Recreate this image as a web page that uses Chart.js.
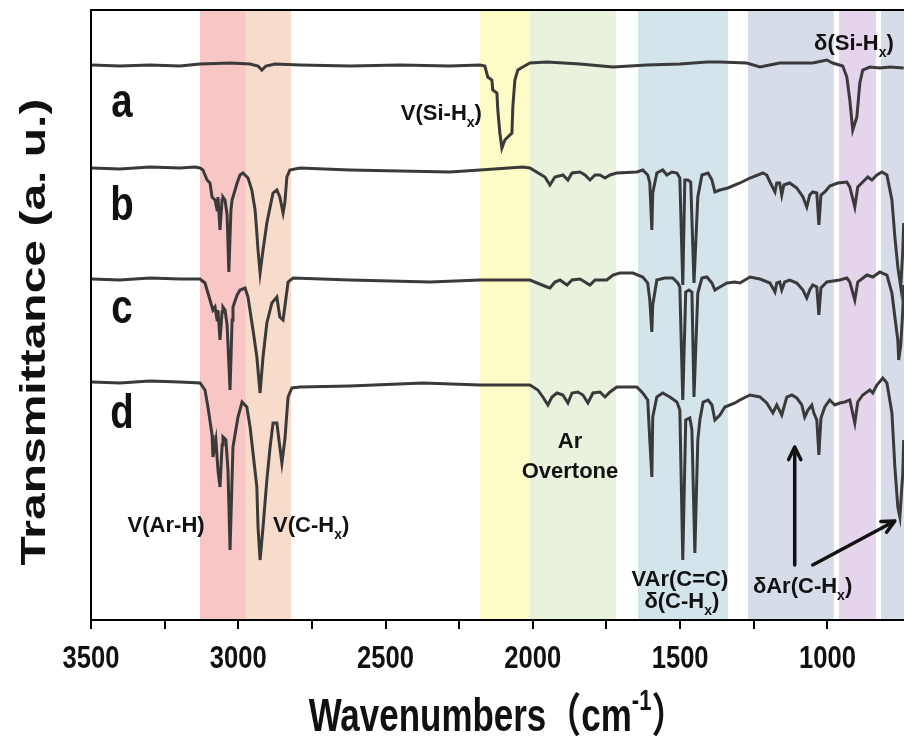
<!DOCTYPE html>
<html>
<head>
<meta charset="utf-8">
<script src="https://cdn.jsdelivr.net/npm/chart.js@4.4.0/dist/chart.umd.min.js"></script>
<style>
  html, body { margin: 0; padding: 0; background: #fff; }
  canvas { display: block; }
</style>
</head>
<body>
<canvas id="ftir" width="904" height="740"></canvas>
<script>
// wavenumber (cm-1) and offset transmittance (a.u.)
const aWn = [3497,3402,3300,3198,3130,3028,2960,2933,2920,2906,
             2875,2791,2621,2451,2282,2180,2163,2153,2139,2136,
             2122,2119,2112,2105,2095,2085,2071,2068,2061,2051,
             2034,2010,1952,1840,1728,1613,1501,1409,1365,1274,
             1229,1162,1050,1002,982,948,934,924,914,900,
             890,880,856,822,788,741];
const aT = [555,554,555,554,556,557,556,554,550,554,
            556,555,554,555,554,555,554,543,540,530,
            527,510,487,472,480,483,487,513,540,550,
            553,557,558,556,553,555,556,558,558,557,
            553,557,557,560,557,554,543,520,490,503,
            537,550,553,552,553,552];

const bWn = [3497,3402,3300,3198,3147,3130,3120,3106,3096,3089,
             3079,3072,3069,3062,3055,3052,3045,3038,3032,3025,
             3021,3004,2994,2984,2967,2954,2943,2937,2933,2926,
             2916,2903,2892,2882,2869,2859,2848,2842,2835,2825,
             2791,2621,2451,2282,2180,2034,2010,1959,1942,1925,
             1898,1881,1867,1840,1823,1806,1789,1772,1755,1738,
             1715,1647,1627,1610,1603,1596,1593,1579,1559,1545,
             1528,1511,1501,1491,1484,1474,1464,1453,1440,1426,
             1405,1392,1382,1365,1338,1297,1263,1219,1206,1195,
             1178,1172,1162,1155,1148,1128,1104,1083,1070,1060,
             1050,1036,1029,1022,1009,992,965,934,924,907,
             897,880,863,849,832,815,798,781,771,761,
             751,744,741];
const bT = [452,451,453,452,453,452,450,440,437,423,
            420,410,423,390,420,423,420,405,348,410,
            420,437,445,447,442,430,410,387,370,347,
            370,397,413,427,430,423,407,417,443,450,
            452,450,449,448,450,453,452,443,435,443,
            445,440,447,448,445,440,445,445,442,445,
            447,448,450,445,437,390,427,447,450,445,
            448,447,442,335,440,440,438,337,423,445,
            447,440,428,430,432,437,442,447,445,438,
            428,437,437,425,435,437,432,423,413,425,
            428,427,395,425,428,434,437,438,433,413,
            433,438,443,440,445,448,445,420,383,353,
            333,370,397];

const cWn = [3497,3402,3300,3198,3130,3113,3096,3086,3079,3072,
             3069,3062,3055,3052,3045,3038,3028,3021,3018,3004,
             2994,2977,2967,2950,2937,2926,2916,2903,2886,2869,
             2859,2848,2842,2831,2814,2621,2349,2180,2010,1952,
             1942,1925,1908,1884,1867,1840,1806,1789,1749,1728,
             1705,1660,1627,1610,1603,1596,1593,1579,1552,1525,
             1508,1501,1491,1481,1470,1460,1453,1440,1426,1409,
             1392,1382,1365,1341,1314,1297,1263,1229,1195,1178,
             1172,1162,1155,1145,1128,1104,1083,1070,1060,1050,
             1036,1029,1022,1002,958,934,924,907,897,866,
             846,822,798,781,771,761,758,751,744,741];
const cT = [341,340,342,341,341,337,320,310,313,300,
            310,280,308,313,310,295,230,300,313,325,
            330,332,323,290,263,227,263,297,317,323,
            303,300,313,338,342,340,338,340,340,333,
            332,338,340,335,340,341,335,340,340,345,
            347,347,343,337,320,288,315,340,342,342,
            337,333,220,328,330,328,223,327,342,343,
            337,330,333,337,338,337,343,341,337,328,
            337,338,330,338,340,337,330,322,330,335,
            333,305,332,338,340,342,338,320,338,345,
            343,348,345,327,303,280,260,275,310,335];

const dWn = [3497,3402,3300,3198,3130,3113,3103,3089,3086,3076,
             3069,3062,3055,3052,3042,3035,3028,3018,3001,2987,
             2971,2960,2950,2937,2933,2926,2916,2903,2892,2882,
             2869,2859,2852,2842,2835,2831,2818,2791,2621,2373,
             2180,2010,1983,1966,1949,1935,1918,1898,1881,1867,
             1847,1830,1813,1796,1772,1755,1738,1715,1647,1627,
             1610,1603,1596,1593,1579,1559,1535,1511,1501,1491,
             1481,1467,1460,1450,1440,1433,1422,1405,1392,1382,
             1365,1348,1314,1297,1263,1229,1206,1185,1172,1155,
             1138,1121,1104,1087,1077,1066,1053,1046,1036,1029,
             1022,1009,992,975,958,941,924,907,897,880,
             856,846,832,812,798,781,771,761,754,748,
             744,741];
const dT = [238,237,239,238,237,230,213,185,163,180,
            150,133,175,183,180,150,70,173,203,218,
            213,193,167,133,93,60,93,140,173,197,
            197,173,157,180,207,223,232,233,234,237,
            235,235,230,223,215,223,227,225,217,227,
            228,225,217,227,228,223,228,233,233,227,
            220,180,143,203,223,227,223,218,210,60,
            200,202,190,67,180,200,218,220,215,200,
            205,213,217,220,225,223,217,207,215,205,
            223,225,222,215,203,210,215,207,200,165,
            202,213,220,215,217,218,220,197,218,225,
            230,227,235,242,237,207,153,113,103,130,
            147,180];

const traceLabels = ['a', 'b', 'c', 'd'];
const xTicks = [3500, 3250, 3000, 2750, 2500, 2250, 2000, 1750, 1500, 1250, 1000];

// shaded assignment bands (cm-1)
const bandFrom = [3130, 2974, 2180, 2010, 1643, 1270, 961, 818];
const bandTo   = [2974, 2821, 2010, 1718, 1338, 978, 835, 740];
const bandColors = ['#f9c6c6', '#f8dccb', '#fefcc6', '#e8f2dd', '#d3e4eb', '#d6dde8', '#e4d5ec', '#d6dde8'];

// text placement, in data units
const letterWn = 3395;
const letterT = [503, 400, 297, 192];
const peakNotes = [
    {parts: [['V(Si-H'], ['x', 'sub'], [')']], wn: 2173, t: 500, align: 'right'},
    {parts: [['δ(Si-H'], ['x', 'sub'], [')']], wn: 910, t: 570, align: 'center'},
    {parts: [['V(Ar-H)']], wn: 3245, t: 88, align: 'center'},
    {parts: [['V(C-H'], ['x', 'sub'], [')']], wn: 2882, t: 88, align: 'left'},
    {parts: [['Ar']], wn: 1874, t: 172, align: 'center'},
    {parts: [['Overtone']], wn: 1874, t: 142, align: 'center'},
    {parts: [['VAr(C=C)']], wn: 1501, t: 34, align: 'center'},
    {parts: [['δ(C-H'], ['x', 'sub'], [')']], wn: 1494, t: 12, align: 'center'},
    {parts: [['δAr(C-H'], ['x', 'sub'], [')']], wn: 1253, t: 27, align: 'left'}
];
const arrows = [
    {from: [1111, 55], to: [1111, 173]},
    {from: [1050, 55], to: [771, 99]}
];

const FONT = "'Liberation Sans', Arial, 'Noto Sans CJK SC', sans-serif";

// draws text pieces (normal / subscript / superscript) with an optional horizontal squeeze
function drawParts(ctx, parts, x, y, align, size, sx) {
    sx = sx || 1;
    const small = Math.round(size * 0.62);
    const fontFor = p => `bold ${p[1] ? small : size}px ${FONT}`;
    let w = 0;
    parts.forEach(p => { ctx.font = fontFor(p); w += ctx.measureText(p[0]).width; });
    let start = align === 'center' ? x - w * sx / 2 : align === 'right' ? x - w * sx : x;
    ctx.save();
    ctx.translate(start, y);
    ctx.scale(sx, 1);
    ctx.textAlign = 'left';
    ctx.textBaseline = 'alphabetic';
    let cx = 0;
    parts.forEach(p => {
        ctx.font = fontFor(p);
        let dy = p[1] === 'sub' ? size * 0.3 : p[1] === 'sup' ? -size * 0.45 : 0;
        ctx.fillText(p[0], cx, dy);
        cx += ctx.measureText(p[0]).width;
    });
    ctx.restore();
}

function drawArrow(ctx, x1, y1, x2, y2) {
    const ang = Math.atan2(y2 - y1, x2 - x1);
    const head = 14;
    ctx.beginPath();
    ctx.moveTo(x1, y1);
    ctx.lineTo(x2, y2);
    ctx.moveTo(x2 - head * Math.cos(ang - 0.45), y2 - head * Math.sin(ang - 0.45));
    ctx.lineTo(x2, y2);
    ctx.lineTo(x2 - head * Math.cos(ang + 0.45), y2 - head * Math.sin(ang + 0.45));
    ctx.stroke();
}

const bandsPlugin = {
    id: 'bands',
    beforeDraw(chart) {
        const {ctx, chartArea: area, scales: {x}} = chart;
        ctx.save();
        bandFrom.forEach((from, i) => {
            const x1 = x.getPixelForValue(from);
            const x2 = x.getPixelForValue(bandTo[i]);
            ctx.fillStyle = bandColors[i];
            ctx.fillRect(x1, area.top, x2 - x1, area.bottom - area.top);
        });
        ctx.restore();
    }
};

const notesPlugin = {
    id: 'notes',
    afterDraw(chart) {
        const {ctx, chartArea: area, scales: {x, y}} = chart;
        ctx.save();
        // top frame line
        ctx.strokeStyle = '#000';
        ctx.lineWidth = 2;
        ctx.beginPath();
        ctx.moveTo(area.left - 1, area.top);
        ctx.lineTo(area.right, area.top);
        ctx.stroke();

        // narrow tick labels taken from the x scale's own ticks
        ctx.fillStyle = '#111';
        x.ticks.forEach(tk => {
            if (tk.value % 500 !== 0) return;
            drawParts(ctx, [[String(tk.value)]], x.getPixelForValue(tk.value), area.bottom + 48, 'center', 32, 0.8);
        });

        traceLabels.forEach((lab, i) => {
            drawParts(ctx, [[lab]], x.getPixelForValue(letterWn), y.getPixelForValue(letterT[i]), 'center', 48, 0.8);
        });
        peakNotes.forEach(n => {
            drawParts(ctx, n.parts, x.getPixelForValue(n.wn), y.getPixelForValue(n.t), n.align, 22);
        });

        ctx.strokeStyle = '#111';
        ctx.lineWidth = 3.5;
        ctx.lineCap = 'round';
        ctx.lineJoin = 'round';
        arrows.forEach(a => {
            drawArrow(ctx, x.getPixelForValue(a.from[0]), y.getPixelForValue(a.from[1]),
                      x.getPixelForValue(a.to[0]), y.getPixelForValue(a.to[1]));
        });

        // axis titles
        ctx.fillStyle = '#111';
        drawParts(ctx, [['Wavenumbers'], ['（cm'], ['-1', 'sup'], ['）']],
                  (area.left + area.right) / 2, 731, 'center', 46, 0.76);
        ctx.save();
        ctx.translate(45, (area.top + area.bottom) / 2 + 17);
        ctx.rotate(-Math.PI / 2);
        ctx.scale(1, 0.74);
        drawParts(ctx, [['Transmittance (a. u.)']], 0, 0, 'center', 48);
        ctx.restore();
        ctx.restore();
    }
};

const traces = [[aWn, aT], [bWn, bT], [cWn, cT], [dWn, dT]];

const ctx = document.getElementById('ftir').getContext('2d');
const chart = new Chart(ctx, {
    type: 'line',
    data: {
        datasets: traces.map(([wn, t], i) => ({
            label: traceLabels[i],
            data: wn.map((w, j) => ({x: w, y: t[j]})),
            borderColor: '#3a3a3a',
            borderWidth: 3,
            pointRadius: 0,
            tension: 0,
            fill: false
        }))
    },
    options: {
        responsive: false,
        animation: false,
        devicePixelRatio: 1,
        layout: {padding: {top: 10, left: 0, right: 0, bottom: 0}},
        plugins: {
            legend: {display: false},
            tooltip: {enabled: false}
        },
        scales: {
            x: {
                type: 'linear',
                reverse: true,
                min: 740,
                max: 3500,
                afterBuildTicks: scale => { scale.ticks = xTicks.map(v => ({value: v})); },
                afterFit: scale => { scale.height = 120; },
                ticks: {display: false, autoSkip: false, maxRotation: 0},
                grid: {
                    display: true,
                    drawOnChartArea: false,
                    drawTicks: true,
                    tickLength: 9,
                    color: '#000',
                    lineWidth: 2
                },
                border: {display: true, color: '#000', width: 2}
            },
            y: {
                min: 0,
                max: 610,
                afterFit: scale => { scale.width = 91; },
                ticks: {display: false},
                grid: {display: false},
                border: {display: true, color: '#000', width: 2}
            }
        }
    },
    plugins: [bandsPlugin, notesPlugin]
});
</script>
</body>
</html>
